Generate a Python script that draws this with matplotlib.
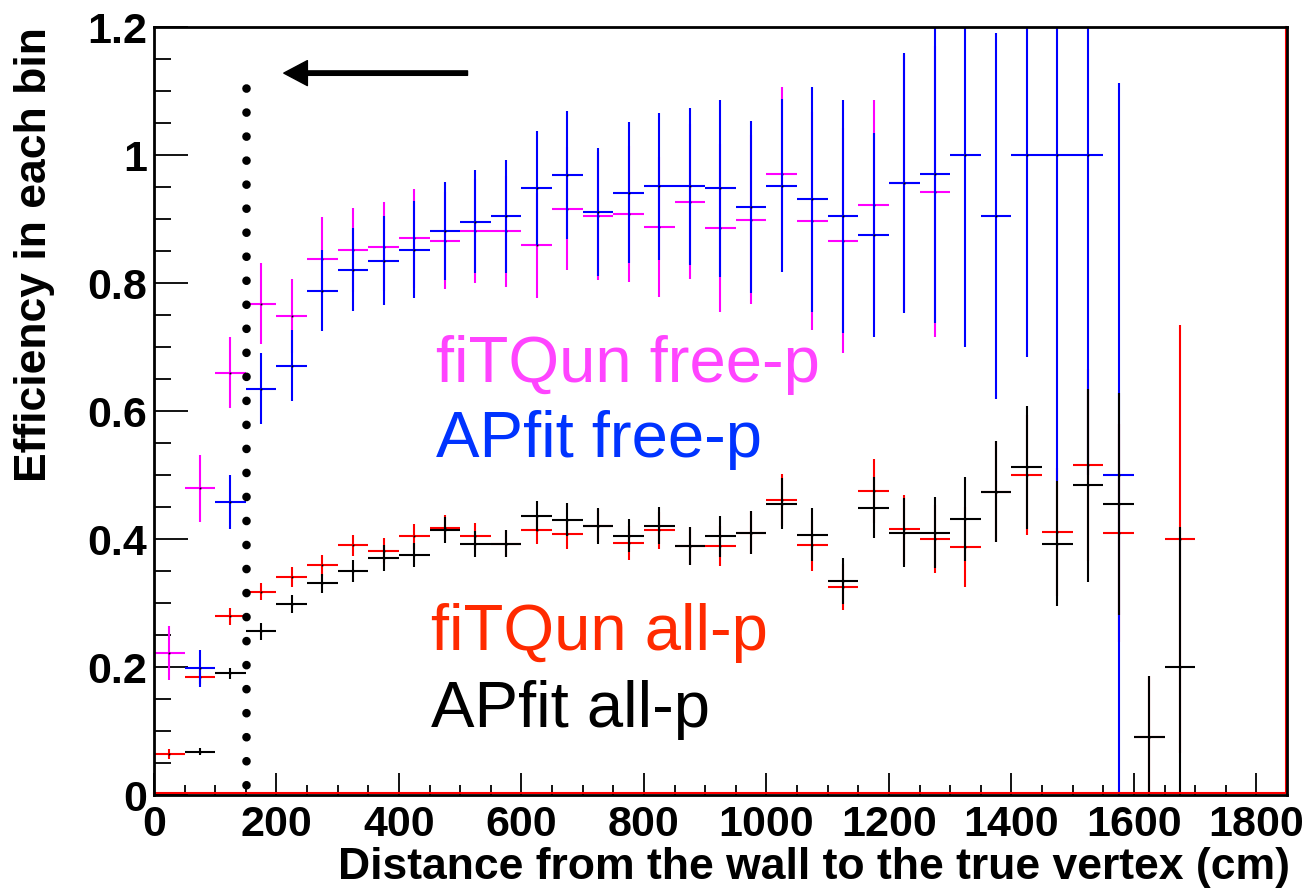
import numpy as np
import matplotlib.pyplot as plt
from matplotlib.ticker import MultipleLocator, FuncFormatter

plt.rcParams['font.family'] = ['Liberation Sans', 'DejaVu Sans']

# bin centres (cm), bins are 50 cm wide
half_bin = 25

# fiTQun free-p
x_fq_free = [25, 75, 125, 175, 225, 275, 325, 375, 425, 475, 525, 575, 625, 675, 725,
             775, 825, 875, 925, 975, 1025, 1075, 1125, 1175, 1225, 1275]
y_fq_free = [0.222, 0.479, 0.660, 0.768, 0.749, 0.838, 0.852, 0.857, 0.870, 0.866, 0.881,
             0.881, 0.859, 0.916, 0.905, 0.908, 0.8875, 0.927, 0.886, 0.899, 0.971, 0.897,
             0.866, 0.922, 0.956, 0.943]
e_fq_free = [0.042, 0.052, 0.055, 0.063, 0.058, 0.065, 0.066, 0.070, 0.077, 0.076, 0.081,
             0.087, 0.082, 0.096, 0.100, 0.106, 0.109, 0.121, 0.131, 0.132, 0.135, 0.170,
             0.176, 0.164, 0.200, 0.228]

# APfit free-p
x_ap_free = [75, 125, 175, 225, 275, 325, 375, 425, 475, 525, 575, 625, 675, 725, 775,
             825, 875, 925, 975, 1025, 1075, 1125, 1175, 1225, 1275, 1325, 1375, 1425,
             1475, 1525, 1575]
y_ap_free = [0.198, 0.458, 0.635, 0.671, 0.788, 0.821, 0.835, 0.852, 0.881, 0.896, 0.904,
             0.949, 0.969, 0.911, 0.941, 0.951, 0.951, 0.948, 0.919, 0.952, 0.931, 0.904,
             0.875, 0.956, 0.971, 1.0, 0.905, 1.0, 1.0, 1.0, 0.5]
e_ap_free = [0.029, 0.042, 0.055, 0.055, 0.063, 0.065, 0.069, 0.076, 0.077, 0.081, 0.088,
             0.089, 0.100, 0.100, 0.110, 0.115, 0.123, 0.138, 0.134, 0.135, 0.176, 0.182,
             0.159, 0.203, 0.233, 0.300, 0.286, 0.315, 0.510, 0.500, 0.612]

# fiTQun all-p
x_fq_all = [25, 75, 125, 175, 225, 275, 325, 375, 425, 475, 525, 575, 625, 675, 725, 775,
            825, 875, 925, 975, 1025, 1075, 1125, 1175, 1225, 1275, 1325, 1375, 1425, 1475,
            1525, 1575, 1625, 1675]
y_fq_all = [0.064, 0.185, 0.279, 0.318, 0.341, 0.359, 0.390, 0.382, 0.404, 0.418, 0.405,
            0.393, 0.414, 0.408, 0.421, 0.394, 0.414, 0.389, 0.389, 0.410, 0.461, 0.390,
            0.325, 0.475, 0.415, 0.400, 0.3875, 0.474, 0.500, 0.411, 0.516, 0.409, 0.091,
            0.400]
e_fq_all = [0.008, 0.012, 0.013, 0.014, 0.016, 0.016, 0.017, 0.020, 0.019, 0.020, 0.020,
            0.021, 0.022, 0.024, 0.026, 0.026, 0.029, 0.030, 0.031, 0.034, 0.040, 0.040,
            0.036, 0.050, 0.054, 0.053, 0.062, 0.079, 0.094, 0.100, 0.150, 0.170, 0.095,
            0.334]

# APfit all-p
x_ap_all = [75, 125, 175, 225, 275, 325, 375, 425, 475, 525, 575, 625, 675, 725, 775,
            825, 875, 925, 975, 1025, 1075, 1125, 1175, 1225, 1275, 1325, 1375, 1425, 1475,
            1525, 1575, 1625, 1675]
y_ap_all = [0.068, 0.190, 0.256, 0.298, 0.331, 0.350, 0.370, 0.375, 0.414, 0.392, 0.393,
            0.436, 0.430, 0.421, 0.405, 0.421, 0.389, 0.404, 0.410, 0.455, 0.407, 0.334,
            0.449, 0.410, 0.410, 0.431, 0.474, 0.512, 0.393, 0.484, 0.455, 0.091, 0.200]
e_ap_all = [0.006, 0.008, 0.013, 0.014, 0.015, 0.017, 0.020, 0.019, 0.020, 0.020, 0.021,
            0.024, 0.026, 0.028, 0.026, 0.029, 0.030, 0.032, 0.034, 0.040, 0.041, 0.036,
            0.048, 0.054, 0.056, 0.066, 0.079, 0.096, 0.098, 0.151, 0.173, 0.095, 0.219]

fig = plt.figure(figsize=(13.09, 8.89), dpi=100)
ax = fig.add_axes([0.1176, 0.1057, 0.8656, 0.8639])

series = [
    (x_fq_free, y_fq_free, e_fq_free, '#ff00ff'),
    (x_fq_all, y_fq_all, e_fq_all, '#ff0000'),
    (x_ap_free, y_ap_free, e_ap_free, '#0000ff'),
    (x_ap_all, y_ap_all, e_ap_all, '#000000'),
]
for xs, ys, es, col in series:
    ax.errorbar(xs, ys, xerr=half_bin, yerr=es, fmt='none', ecolor=col,
                elinewidth=1.5, capsize=0)
    ax.plot(xs, ys, ls='none', marker='s', ms=1.3, mew=0, color='black')

# fiducial cut line and arrow
ax.plot([150, 150], [1.105, 0.0], color='black', lw=6.2,
        ls=(0, (0.01, 2.78)), dash_capstyle='round')
ax.annotate('', xy=(212, 1.128), xytext=(512, 1.128),
            arrowprops=dict(facecolor='black', edgecolor='black', width=3.2,
                            headwidth=18, headlength=17, shrink=0))

# red frame of the histogram
ax.plot([0, 1848, 1848], [0.003, 0.003, 1.2], color='#ff0000', lw=1.5, clip_on=False)

ax.text(460, 0.646, 'fiTQun free-p', color='#ff44ff', fontsize=47)
ax.text(460, 0.528, 'APfit free-p', color='#0033ff', fontsize=47)
ax.text(453, 0.2266, 'fiTQun all-p', color='#ff2a00', fontsize=47)
ax.text(453, 0.106, 'APfit all-p', color='black', fontsize=47)

ax.set_xlim(0, 1850)
ax.set_ylim(0, 1.2)
ax.xaxis.set_major_locator(MultipleLocator(200))
ax.xaxis.set_minor_locator(MultipleLocator(50))
ax.yaxis.set_major_locator(MultipleLocator(0.2))
ax.yaxis.set_minor_locator(MultipleLocator(0.05))
ax.yaxis.set_major_formatter(FuncFormatter(lambda v, p: f'{v:g}'))
ax.xaxis.set_major_formatter(FuncFormatter(lambda v, p: f'{v:g}'))

ax.tick_params(axis='y', which='major', direction='in', length=24.5, width=1.3,
               labelsize=31, pad=5)
ax.tick_params(axis='y', which='minor', direction='in', length=12, width=1.3)
ax.tick_params(axis='x', which='major', direction='in', length=16, width=1.3,
               labelsize=31, pad=7)
ax.tick_params(axis='x', which='minor', direction='in', length=7.5, width=1.3)
for lab in ax.get_xticklabels() + ax.get_yticklabels():
    lab.set_fontweight('bold')

for sp in ax.spines.values():
    sp.set_linewidth(2)

ax.set_xlabel('Distance from the wall to the true vertex (cm)', fontsize=32,
              fontweight='bold', loc='right')
ax.xaxis.set_label_coords(1.003, -0.068)
ax.set_ylabel('Efficiency in each bin', fontsize=32, fontweight='bold', loc='top')
ax.yaxis.set_label_coords(-0.087, 1.0)

fig.savefig('out.png', dpi=100)
